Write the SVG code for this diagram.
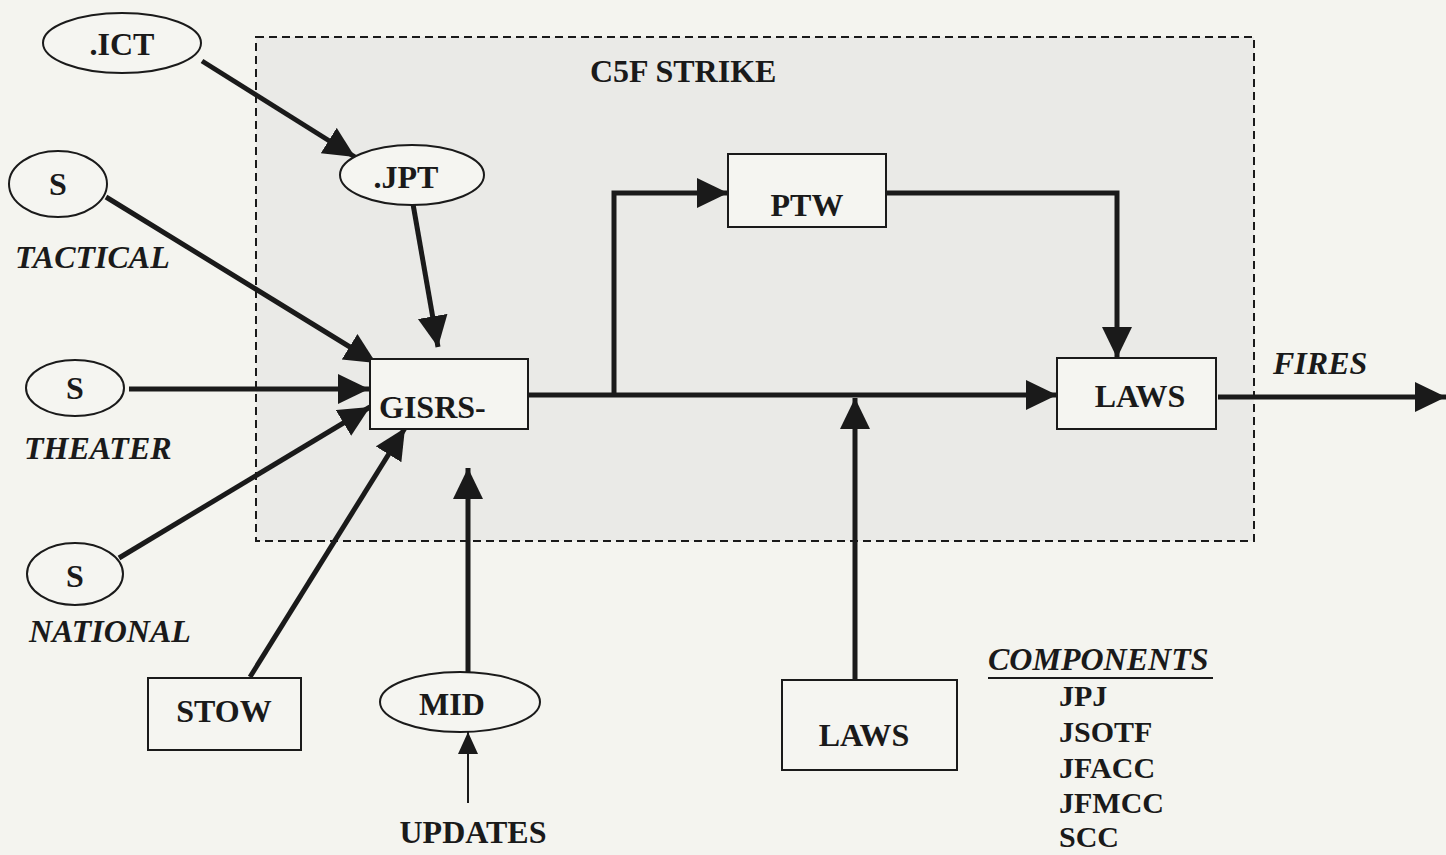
<svg xmlns="http://www.w3.org/2000/svg" width="1446" height="855" viewBox="0 0 1446 855">
<style>
.t{font-family:"Liberation Serif","Times New Roman",serif;font-weight:bold;font-size:32px;fill:#1a1a1a}
.i{font-style:italic}
.l{font-size:30px}
.n{fill:#f5f5f1;stroke:#1a1a1a;stroke-width:2}
.c{stroke:#1a1a1a;stroke-width:5;fill:none}
</style>
<defs>
<marker id="ah" markerUnits="userSpaceOnUse" markerWidth="34" markerHeight="32" refX="31" refY="15" orient="auto">
<path d="M0,0 L31,15 L0,30 z" fill="#1a1a1a"/>
</marker>
<marker id="as" markerUnits="userSpaceOnUse" markerWidth="24" markerHeight="22" refX="22" refY="10" orient="auto">
<path d="M0,0 L22,10 L0,20 z" fill="#1a1a1a"/>
</marker>
</defs>
<rect width="1446" height="855" fill="#f4f4ef"/>
<g id="c5f-strike">
<rect x="256" y="37" width="998" height="504" fill="#eaeae7" stroke="#1a1a1a" stroke-width="2" stroke-dasharray="8 5"/>
<text class="t" x="590" y="82">C5F STRIKE</text>
</g>
<g id="connectors">
<line class="c" x1="202" y1="61" x2="355" y2="157" marker-end="url(#ah)"/>
<line class="c" x1="413" y1="204" x2="438" y2="347" marker-end="url(#ah)"/>
<line class="c" x1="106" y1="197" x2="376" y2="363" marker-end="url(#ah)"/>
<line class="c" x1="129" y1="389" x2="369" y2="389" marker-end="url(#ah)"/>
<line class="c" x1="119" y1="558" x2="370" y2="407" marker-end="url(#ah)"/>
<line class="c" x1="250" y1="677" x2="405" y2="428" marker-end="url(#ah)"/>
<line class="c" x1="468" y1="672" x2="468" y2="468" marker-end="url(#ah)"/>
<line x1="468" y1="803" x2="468" y2="732" stroke="#1a1a1a" stroke-width="2" marker-end="url(#as)"/>
<line class="c" x1="528" y1="395" x2="1057" y2="395" marker-end="url(#ah)"/>
<polyline class="c" points="614,395 614,193 728,193" marker-end="url(#ah)"/>
<polyline class="c" points="886,193 1117,193 1117,358" marker-end="url(#ah)"/>
<line class="c" x1="855" y1="680" x2="855" y2="398" marker-end="url(#ah)"/>
<line class="c" x1="1218" y1="397" x2="1446" y2="397" marker-end="url(#ah)"/>
</g>
<g id="ict"><ellipse class="n" cx="122" cy="43" rx="79" ry="30"/><text class="t" x="122" y="55" text-anchor="middle">.ICT</text></g>
<g id="jpt"><ellipse class="n" cx="412" cy="175" rx="72" ry="30"/><text class="t" x="406" y="188" text-anchor="middle">.JPT</text></g>
<g id="s-tactical"><ellipse class="n" cx="58" cy="184" rx="49" ry="33"/><text class="t" x="58" y="195" text-anchor="middle">S</text><text class="t i" x="15" y="268">TACTICAL</text></g>
<g id="s-theater"><ellipse class="n" cx="75" cy="388" rx="49" ry="28"/><text class="t" x="75" y="399" text-anchor="middle">S</text><text class="t i" x="24" y="459">THEATER</text></g>
<g id="s-national"><ellipse class="n" cx="75" cy="574" rx="48" ry="31"/><text class="t" x="75" y="587" text-anchor="middle">S</text><text class="t i" x="29" y="642">NATIONAL</text></g>
<g id="gisrs"><rect class="n" x="370" y="359" width="158" height="70"/><text class="t" x="379" y="418">GISRS-</text></g>
<g id="stow"><rect class="n" x="148" y="678" width="153" height="72"/><text class="t" x="224" y="722" text-anchor="middle">STOW</text></g>
<g id="mid"><ellipse class="n" cx="460" cy="702" rx="80" ry="30"/><text class="t" x="452" y="715" text-anchor="middle">MID</text><text class="t" x="473" y="843" text-anchor="middle">UPDATES</text></g>
<g id="ptw"><rect class="n" x="728" y="154" width="158" height="73"/><text class="t" x="807" y="216" text-anchor="middle">PTW</text></g>
<g id="laws-main"><rect class="n" x="1057" y="358" width="159" height="71"/><text class="t" x="1140" y="407" text-anchor="middle">LAWS</text></g>
<g id="laws-bottom"><rect class="n" x="782" y="680" width="175" height="90"/><text class="t" x="864" y="746" text-anchor="middle">LAWS</text></g>
<g id="fires"><text class="t i" x="1273" y="374">FIRES</text></g>
<g id="components">
<text class="t i" x="988" y="670">COMPONENTS</text>
<line x1="988" y1="678" x2="1213" y2="678" stroke="#1a1a1a" stroke-width="2"/>
<text class="t l" x="1059" y="706">JPJ</text>
<text class="t l" x="1059" y="742">JSOTF</text>
<text class="t l" x="1059" y="778">JFACC</text>
<text class="t l" x="1059" y="813">JFMCC</text>
<text class="t l" x="1059" y="847">SCC</text>
</g>
</svg>
